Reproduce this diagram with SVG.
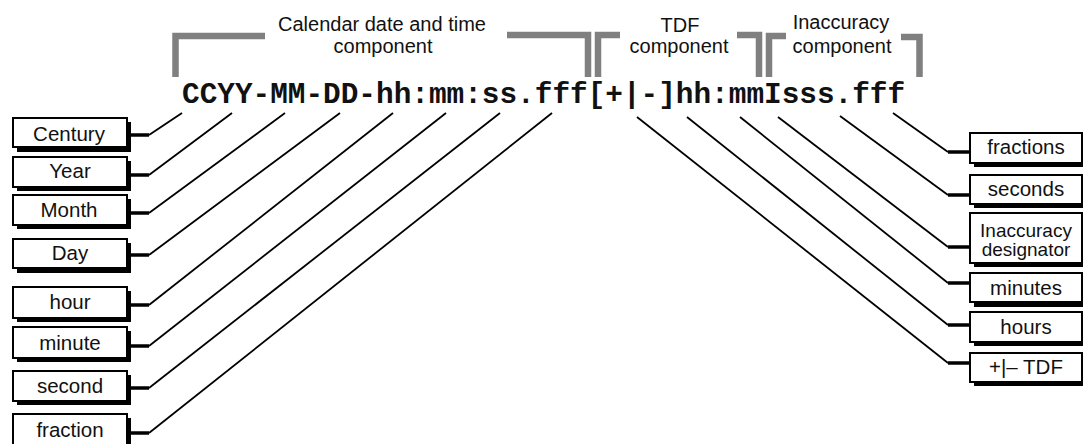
<svg xmlns="http://www.w3.org/2000/svg" width="1083" height="444" viewBox="0 0 1083 444">
<defs>
<style>
.bk{fill:none;stroke:#808080;stroke-width:6.5;stroke-linejoin:miter;stroke-linecap:butt}
.hd{font-family:"Liberation Sans",Arial,sans-serif;font-size:20px;fill:#111;text-anchor:middle}
.code{font-family:"Liberation Mono","Courier New",monospace;font-weight:bold;font-size:29.4px;fill:#111}
.sh{fill:#000}
.bx{fill:#fff;stroke:#000;stroke-width:2}
.lb{font-family:"Liberation Sans",Arial,sans-serif;font-size:20.5px;fill:#111;text-anchor:middle}
.lb2{font-family:"Liberation Sans",Arial,sans-serif;font-size:19px;fill:#111;text-anchor:middle}
.stub{stroke:#000;stroke-width:3.5;fill:none}
.ln{stroke:#000;stroke-width:1.8;fill:none}
</style>
</defs>
<rect width="1083" height="444" fill="#fff"/>
<g id="headers">
<path class="bk" d="M175.5,77 V36 H265"/>
<path class="bk" d="M507,35 H588 V77"/>
<text class="hd" x="382" y="31">Calendar date and time</text>
<text class="hd" x="383" y="53">component</text>
<path class="bk" d="M598,77 V35 H620"/>
<path class="bk" d="M737,35 H759 V77"/>
<text class="hd" x="680" y="32">TDF</text>
<text class="hd" x="679" y="53">component</text>
<path class="bk" d="M769,77 V36 H786"/>
<path class="bk" d="M901,37 H919.5 V77"/>
<text class="hd" x="841" y="29">Inaccuracy</text>
<text class="hd" x="842" y="53">component</text>
</g>
<g id="format">
<text class="code" x="182" y="103">CCYY-MM-DD-hh:mm:ss.fff[+|-]hh:mmIsss.fff</text>
</g>
<g id="connectors">
<path class="stub" d="M127,135 H149"/><path class="ln" d="M149,135 L182,113"/>
<path class="stub" d="M127,175 H149"/><path class="ln" d="M149,175 L232,113"/>
<path class="stub" d="M127,213 H149"/><path class="ln" d="M149,213 L285,113"/>
<path class="stub" d="M127,255 H149"/><path class="ln" d="M149,255 L340,113"/>
<path class="stub" d="M127,305 H149"/><path class="ln" d="M149,305 L393,113"/>
<path class="stub" d="M127,346 H149"/><path class="ln" d="M149,346 L446,113"/>
<path class="stub" d="M127,388 H149"/><path class="ln" d="M149,388 L500,113"/>
<path class="stub" d="M127,433 H149"/><path class="ln" d="M149,433 L552,113"/>
<path class="stub" d="M948,152 H970"/><path class="ln" d="M948,152 L893,113"/>
<path class="stub" d="M948,195 H970"/><path class="ln" d="M948,195 L840,116"/>
<path class="stub" d="M948,247 H970"/><path class="ln" d="M948,247 L778,117"/>
<path class="stub" d="M948,283 H970"/><path class="ln" d="M948,283 L740,117"/>
<path class="stub" d="M948,325 H970"/><path class="ln" d="M948,325 L687,117"/>
<path class="stub" d="M948,363 H970"/><path class="ln" d="M948,363 L637,117"/>
</g>
<g id="century"><rect class="sh" x="17" y="122" width="114" height="30"/><rect class="bx" x="13" y="118" width="114" height="29"/><text class="lb" x="69" y="141">Century</text></g>
<g id="year"><rect class="sh" x="17" y="161" width="114" height="30"/><rect class="bx" x="13" y="157" width="114" height="30"/><text class="lb" x="70" y="178">Year</text></g>
<g id="month"><rect class="sh" x="17" y="199" width="114" height="30"/><rect class="bx" x="13" y="195" width="114" height="30"/><text class="lb" x="69" y="217">Month</text></g>
<g id="day"><rect class="sh" x="17" y="243" width="114" height="30"/><rect class="bx" x="13" y="239" width="114" height="29"/><text class="lb" x="70" y="260">Day</text></g>
<g id="hour"><rect class="sh" x="17" y="291" width="114" height="31"/><rect class="bx" x="13" y="287" width="114" height="31"/><text class="lb" x="70" y="309">hour</text></g>
<g id="minute"><rect class="sh" x="17" y="331" width="114" height="31"/><rect class="bx" x="13" y="327" width="114" height="31"/><text class="lb" x="70" y="350">minute</text></g>
<g id="second"><rect class="sh" x="17" y="375" width="114" height="30"/><rect class="bx" x="13" y="371" width="114" height="30"/><text class="lb" x="70" y="393">second</text></g>
<g id="fraction"><rect class="sh" x="17" y="418" width="114" height="40"/><rect class="bx" x="13" y="414" width="114" height="40"/><text class="lb" x="70" y="437">fraction</text></g>
<g id="fractions"><rect class="sh" x="974" y="137" width="112" height="30"/><rect class="bx" x="970" y="133" width="112" height="30"/><text class="lb" x="1026" y="154">fractions</text></g>
<g id="seconds"><rect class="sh" x="974" y="179" width="112" height="29"/><rect class="bx" x="970" y="175" width="112" height="29"/><text class="lb" x="1026" y="196">seconds</text></g>
<g id="inaccuracy-designator"><rect class="sh" x="974" y="217" width="112" height="50"/><rect class="bx" x="970" y="213" width="112" height="50"/><text class="lb2" x="1026" y="237">Inaccuracy</text><text class="lb2" x="1026" y="256">designator</text></g>
<g id="minutes"><rect class="sh" x="974" y="277" width="112" height="30"/><rect class="bx" x="970" y="273" width="112" height="29"/><text class="lb" x="1026" y="295">minutes</text></g>
<g id="hours"><rect class="sh" x="974" y="316" width="112" height="30"/><rect class="bx" x="970" y="312" width="112" height="30"/><text class="lb" x="1026" y="334">hours</text></g>
<g id="tdf"><rect class="sh" x="974" y="357" width="112" height="29"/><rect class="bx" x="970" y="353" width="112" height="29"/><text class="lb" x="1026" y="374">+|– TDF</text></g>
</svg>
